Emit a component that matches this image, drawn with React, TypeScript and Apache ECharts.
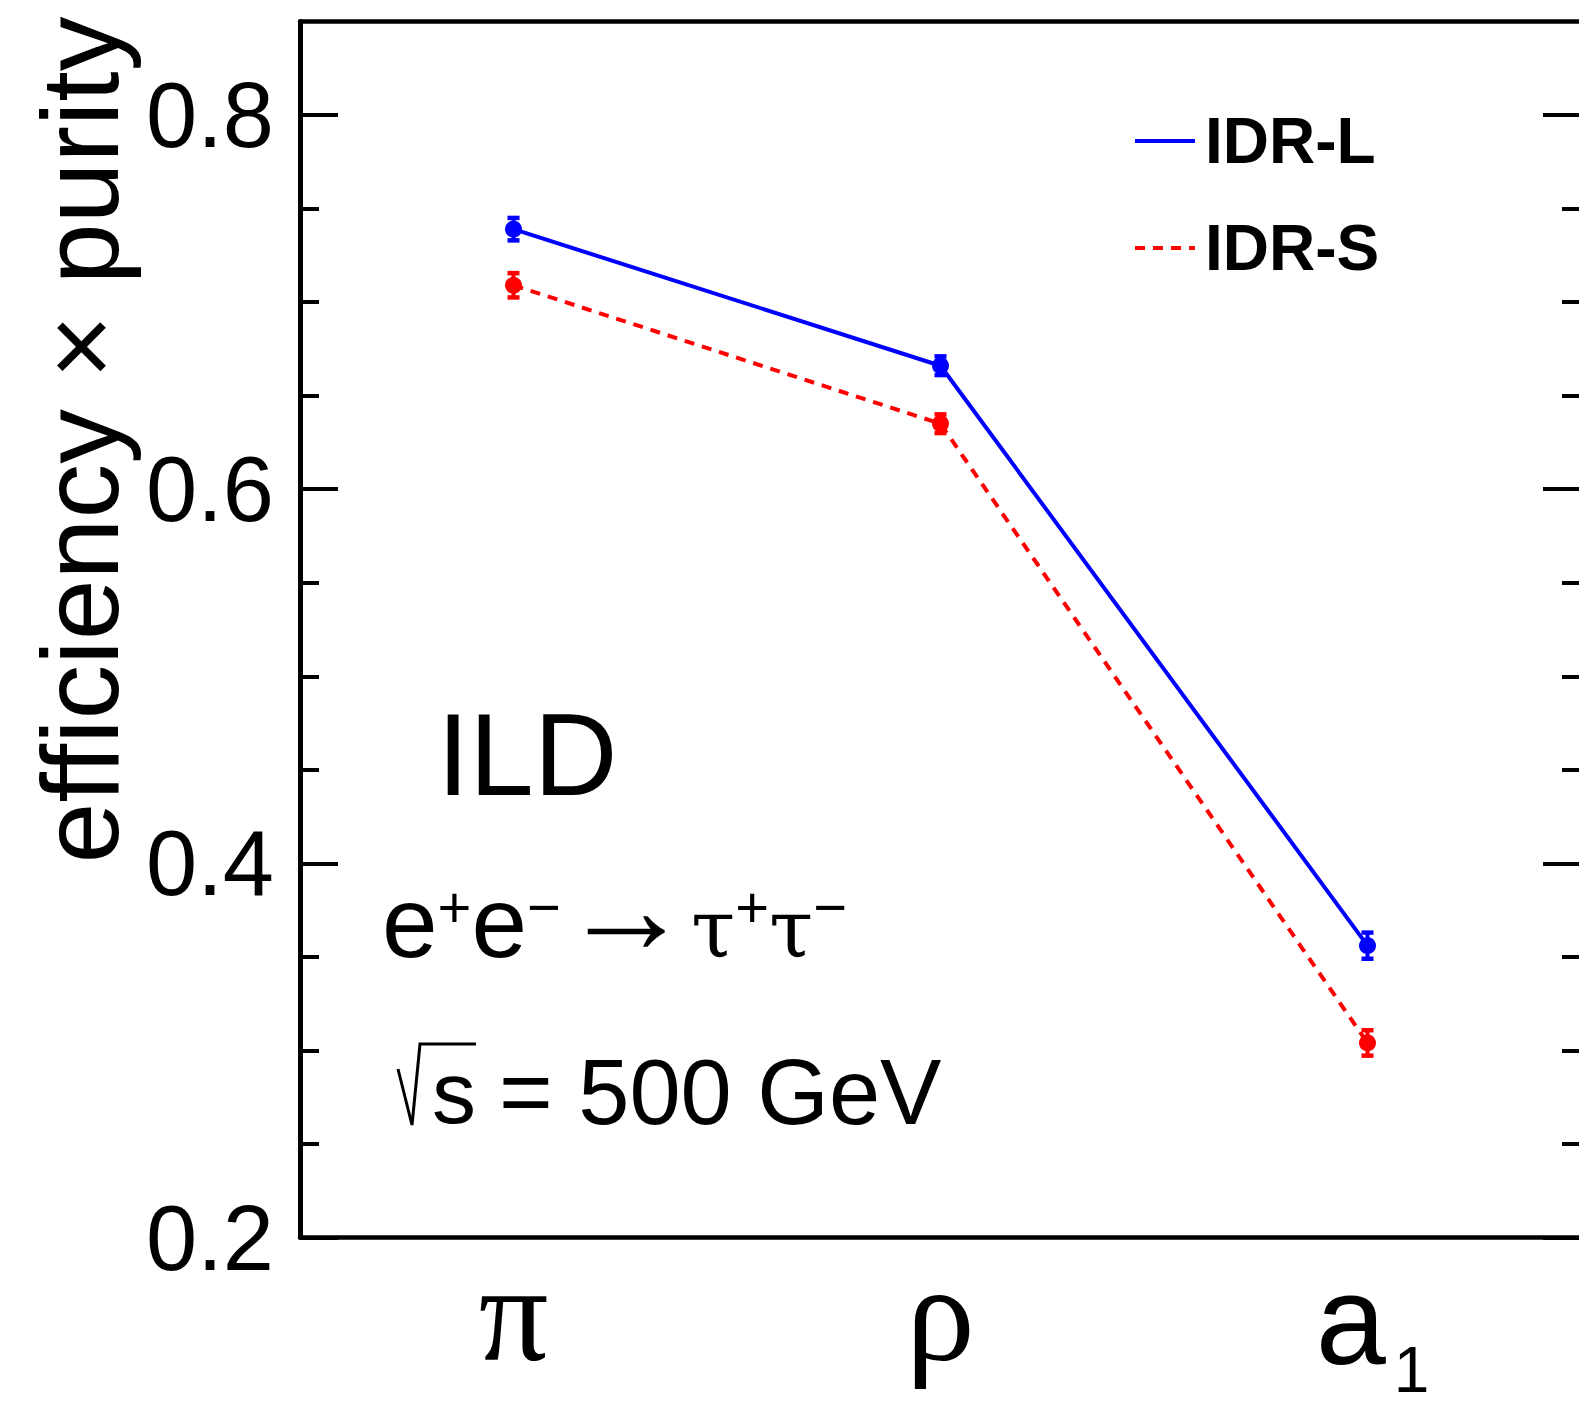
import React, { useEffect, useRef } from 'react';
import * as echarts from 'echarts';

// ---- data ----
const categories = ['π', 'ρ', 'a₁'];
const seriesNames = ['IDR-L', 'IDR-S'];
const idrL = [0.739, 0.666, 0.356];
const idrLErr = [0.006, 0.005, 0.007];
const idrS = [0.709, 0.635, 0.304];
const idrSErr = [0.0065, 0.005, 0.0068];
const yMajorTicks = [0.2, 0.4, 0.6, 0.8];
const yMinorTicks = [0.25, 0.3, 0.35, 0.45, 0.5, 0.55, 0.65, 0.7, 0.75];
const yMin = 0.2;
const yMax = 0.85;
const yTitle = 'efficiency × purity';

const BLUE = '#0000ff';
const RED = '#ff0000';
const SANS = '"Liberation Sans", Arial, Helvetica, sans-serif';
const SERIF = '"Liberation Serif", "Times New Roman", serif';
const DSERIF = '"DejaVu Serif", serif';

function errorBars(name: string, values: number[], errs: number[], color: string) {
  return {
    type: 'custom',
    name: name + ' err',
    xAxisIndex: 0,
    yAxisIndex: 0,
    data: values.map((v, i) => [i, v - errs[i], v + errs[i]]),
    encode: { x: 0, y: [1, 2] },
    z: 3,
    renderItem: (params: any, api: any) => {
      const x = api.value(0);
      const lo = api.coord([x, api.value(1)]);
      const hi = api.coord([x, api.value(2)]);
      const hw = 6;
      return {
        type: 'group',
        children: [
          { type: 'line', shape: { x1: lo[0], y1: lo[1], x2: hi[0], y2: hi[1] }, style: { stroke: color, lineWidth: 4 } },
          { type: 'line', shape: { x1: lo[0] - hw, y1: lo[1], x2: lo[0] + hw, y2: lo[1] }, style: { stroke: color, lineWidth: 4.5 } },
          { type: 'line', shape: { x1: hi[0] - hw, y1: hi[1], x2: hi[0] + hw, y2: hi[1] }, style: { stroke: color, lineWidth: 4.5 } },
        ],
      };
    },
  };
}

function txt(text: string, x: number, y: number, font: string, align = 'left') {
  return {
    type: 'text',
    x,
    y,
    silent: true,
    style: {
      text,
      font,
      fill: '#000',
      align,
      verticalAlign: 'middle',
      textAlign: align,
      textVerticalAlign: 'middle',
    },
  };
}

const supPad = 57.5;
const reactionText = {
  type: 'text',
  x: 382,
  y: 820,
  silent: true,
  style: {
    legacy: false,
    text: '{e|e}{sup|+}{e|e}{sup|−}{arr|→}{t|τ}{sup|+}{t|τ}{sup|−}',
    fill: '#000',
    align: 'left',
    verticalAlign: 'top',
    rich: {
      e: { font: `100px ${SANS}`, fill: '#000', padding: [52, 0, 0, 0], verticalAlign: 'top' },
      sup: { font: `58px ${SANS}`, fill: '#000', padding: [supPad, 0, 0, 0], verticalAlign: 'top' },
      arr: { font: `130px ${SERIF}`, fill: '#000', padding: [24, 0, 0, 0], verticalAlign: 'top' },
      t: { font: `80px ${DSERIF}`, fill: '#000', padding: [69, 0, 0, 0], verticalAlign: 'top' },
    },
  },
};

const option: any = {
  animation: false,
  backgroundColor: '#ffffff',
  grid: { left: 300, top: 21.5, width: 1281, height: 1216, containLabel: false, outerBoundsMode: 'none' },
  legend: {
    data: seriesNames,
    orient: 'vertical',
    left: 1133,
    top: 109,
    padding: 0,
    itemWidth: 60,
    itemHeight: 64,
    itemGap: 43,
    selectedMode: false,
    itemStyle: { opacity: 0 },
    lineStyle: { width: 4 },
    textStyle: {
      fontFamily: SANS,
      fontSize: 64,
      fontWeight: 'bold',
      color: '#000',
      padding: [0, 0, 0, 5],
    },
  },
  xAxis: [
    {
      type: 'category',
      data: categories,
      position: 'bottom',
      boundaryGap: true,
      axisLine: { lineStyle: { color: '#000', width: 4.5 } },
      axisTick: { inside: true, length: 35, lineStyle: { color: '#000', width: 4 } },
      splitLine: { show: false },
      axisLabel: {
        interval: 0,
        margin: 6,
        color: '#000',
        formatter: (v: string) => (v === 'a₁' ? '{a|a}{s|1}' : '{g|' + v + '}'),
        rich: {
          g: { fontFamily: SERIF, fontSize: 138, color: '#000', verticalAlign: 'top', padding: [1, 0, 0, 0] },
          a: { fontFamily: SANS, fontSize: 126, color: '#000', verticalAlign: 'top', padding: [14, 0, 0, 10] },
          s: { fontFamily: SANS, fontSize: 64, color: '#000', verticalAlign: 'top', padding: [94, 0, 0, 8] },
        },
      },
    },
    {
      type: 'category',
      data: categories,
      position: 'top',
      boundaryGap: true,
      axisLine: { lineStyle: { color: '#000', width: 4.5 } },
      axisTick: { inside: true, length: 37, lineStyle: { color: '#000', width: 4 } },
      axisLabel: { show: false },
      splitLine: { show: false },
    },
  ],
  yAxis: [
    {
      type: 'value',
      position: 'left',
      min: yMin,
      max: yMax,
      axisLine: { show: true, lineStyle: { color: '#000', width: 5 } },
      axisTick: { show: true, inside: true, length: 38, customValues: yMajorTicks, lineStyle: { color: '#000', width: 4 } },
      axisLabel: { customValues: yMajorTicks, margin: 26, color: '#000', fontFamily: SANS, fontSize: 92 },
      splitLine: { show: false },
    },
    {
      type: 'value',
      position: 'left',
      min: yMin,
      max: yMax,
      axisLine: { show: false },
      axisTick: { show: true, inside: true, length: 19, customValues: yMinorTicks, lineStyle: { color: '#000', width: 4 } },
      axisLabel: { show: false },
      splitLine: { show: false },
    },
    {
      type: 'value',
      position: 'right',
      min: yMin,
      max: yMax,
      axisLine: { show: false },
      axisTick: { show: true, inside: true, length: 38, customValues: yMajorTicks, lineStyle: { color: '#000', width: 4 } },
      axisLabel: { show: false },
      splitLine: { show: false },
    },
    {
      type: 'value',
      position: 'right',
      min: yMin,
      max: yMax,
      axisLine: { show: false },
      axisTick: { show: true, inside: true, length: 19, customValues: yMinorTicks, lineStyle: { color: '#000', width: 4 } },
      axisLabel: { show: false },
      splitLine: { show: false },
    },
  ],
  series: [
    {
      name: seriesNames[0],
      type: 'line',
      data: idrL,
      symbol: 'circle',
      symbolSize: 17,
      showSymbol: true,
      lineStyle: { color: BLUE, width: 4, type: 'solid' },
      itemStyle: { color: BLUE },
      z: 4,
    },
    {
      name: seriesNames[1],
      type: 'line',
      data: idrS,
      symbol: 'circle',
      symbolSize: 17,
      showSymbol: true,
      lineStyle: { color: RED, width: 4, type: [10, 8] },
      itemStyle: { color: RED },
      z: 4,
    },
    errorBars(seriesNames[0], idrL, idrLErr, BLUE),
    errorBars(seriesNames[1], idrS, idrSErr, RED),
  ],
  graphic: [
    {
      type: 'text',
      x: 80,
      y: 440,
      rotation: Math.PI / 2,
      silent: true,
      style: {
        text: yTitle,
        font: `109.5px ${SANS}`,
        fill: '#000',
        align: 'center',
        verticalAlign: 'middle',
        textAlign: 'center',
        textVerticalAlign: 'middle',
      },
    },
    txt('ILD', 437, 755, `116px ${SANS}`),
    reactionText,
    {
      type: 'polyline',
      silent: true,
      shape: { points: [[398, 1069], [412, 1125], [420, 1044], [476, 1044]] },
      style: { stroke: '#000', lineWidth: 3, fill: null },
    },
    txt('s', 432, 1092, `88px ${SANS}`),
    txt('= 500 GeV', 499, 1092, `92px ${SANS}`),
  ],
};

export default function App() {
  const ref = useRef<HTMLDivElement>(null);
  useEffect(() => {
    const chart = echarts.init(ref.current!, null, { renderer: 'svg' });
    chart.setOption(option);
    return () => chart.dispose();
  }, []);
  return (
    <div
      ref={ref}
      style={{ position: 'absolute', left: 0, top: 0, width: 1579, height: 1407, background: '#fff' }}
    />
  );
}
